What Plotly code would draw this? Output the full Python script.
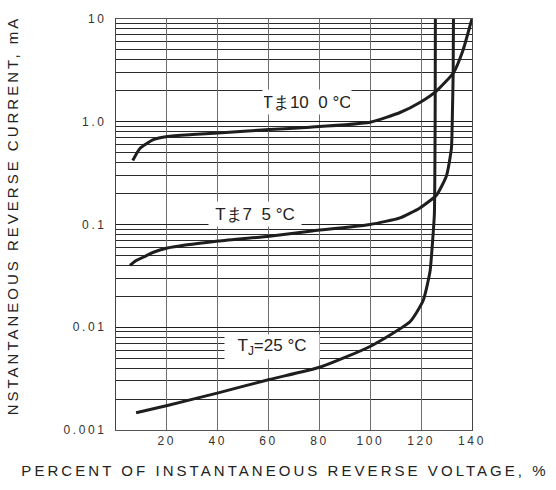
import math
import plotly.graph_objects as go

# ---- data ----
x_100 = [6.6, 9.4, 14.7, 20.2, 30, 40.2, 60.3, 76.3, 99.9, 111.7, 119.5, 126.1, 132.7, 136.5, 139.5, 140]
y_100 = [0.42, 0.55, 0.67, 0.72, 0.75, 0.775, 0.84, 0.885, 0.99, 1.23, 1.54, 2.0, 3.0, 5.0, 9.1, 10]

x_75 = [5.5, 7.5, 10.7, 15, 20.2, 40.2, 60.3, 76.3, 99.9, 111.7, 119.5, 126.1, 130, 131.9, 132.3, 132.6, 132.7]
y_75 = [0.040, 0.044, 0.048, 0.054, 0.059, 0.069, 0.077, 0.086, 0.10, 0.116, 0.145, 0.194, 0.30, 0.55, 1.23, 3.0, 10]

x_25 = [7.9, 20.2, 40.2, 60.3, 80.4, 99.9, 115.6, 120.8, 123.5, 124.5, 125.2, 125.5, 125.6]
y_25 = [0.00147, 0.00173, 0.0023, 0.0031, 0.0041, 0.0065, 0.0113, 0.0182, 0.035, 0.069, 0.126, 1.0, 10]

x_ticks = [20, 40, 60, 80, 100, 120, 140]
y_ticks = [0.001, 0.01, 0.1, 1, 10]
y_tick_labels = ["0.001", "0.01", "0.1", "1.0", "10"]

labels = ["Tま10  0 °C", "Tま7  5 °C", "T<sub>J</sub>=25 °C"]
label_x = [75.0, 54.7, 61.3]
label_y = [1.54, 0.126, 0.0064]
label_w = [86, 90, 92]

x_title = "PERCENT OF INSTANTANEOUS REVERSE VOLTAGE, %"
y_title = "NSTANTANEOUS REVERSE CURRENT, mA"

# minor log grid values
minor_vals = [m * d for d in [0.001, 0.01, 0.1, 1] for m in range(2, 10)]

FONT = "Liberation Sans, Arial, sans-serif"
LINE = "#1e1e1e"

fig = go.Figure()
for xs, ys in [(x_100, y_100), (x_75, y_75), (x_25, y_25)]:
    fig.add_trace(go.Scatter(x=xs, y=ys, mode="lines",
                             line=dict(color=LINE, width=3, shape="spline", smoothing=0.5),
                             showlegend=False, hoverinfo="skip"))

for t, lx, ly, w in zip(labels, label_x, label_y, label_w):
    fig.add_annotation(x=lx, y=math.log10(ly), yref="y", xref="x", text=t, showarrow=False,
                       font=dict(family=FONT, size=17, color="#222"),
                       width=w, height=22, bgcolor="white", borderpad=1)

fig.update_xaxes(range=[0, 140], tickvals=x_ticks, showgrid=True, gridcolor="#6e6e6e",
                 gridwidth=1, showline=True, linecolor="#555", linewidth=1, mirror=True,
                 ticks="", zeroline=False,
                 tickfont=dict(family=FONT, size=12, color="#333"),
                 title=dict(text=x_title, font=dict(family=FONT, size=15, color="#222"), standoff=18))

fig.update_yaxes(type="log", range=[-3, 1], tickvals=y_ticks, ticktext=y_tick_labels,
                 showgrid=True, gridcolor="#1e1e1e", gridwidth=1,
                 minor=dict(tickvals=minor_vals, showgrid=True, gridcolor="#2a2a2a", gridwidth=1, ticks=""),
                 showline=True, linecolor="#444", linewidth=1, mirror=True, ticks="",
                 tickfont=dict(family=FONT, size=12, color="#333"), ticklabelstandoff=6,
                 title=dict(text=y_title, font=dict(family=FONT, size=15, color="#222"), standoff=54))

fig.update_layout(width=556, height=490, margin=dict(l=116, r=84, t=15, b=60),
                  paper_bgcolor="white", plot_bgcolor="white")

post = """
document.body.style.margin='0';
var gd=document.getElementById('{plot_id}');
gd.querySelectorAll('.xtitle').forEach(function(e){
  e.style.letterSpacing='3.05px';
  e.setAttribute('x', parseFloat(e.getAttribute('x')) - 9);
});
gd.querySelectorAll('.ytitle').forEach(function(e){
  e.style.letterSpacing='3.0px';
  e.setAttribute('transform', 'translate(0,-9) ' + (e.getAttribute('transform') || ''));
});
gd.querySelectorAll('.xtick text, .ytick text').forEach(function(e){e.style.letterSpacing='2.6px';});
"""

fig.write_html("out.html", post_script=post, config={"displayModeBar": False})
